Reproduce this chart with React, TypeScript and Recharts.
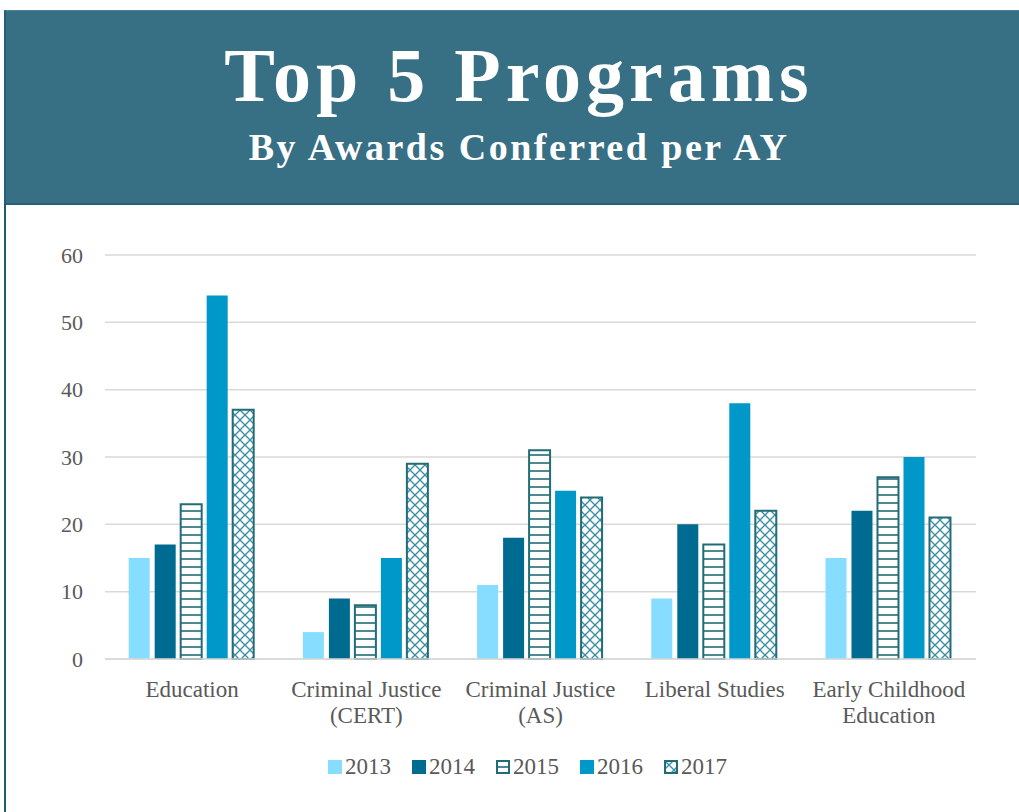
import React from "react";
import { BarChart, Bar, XAxis, YAxis, CartesianGrid } from "recharts";

const categories = [
  "Education",
  "Criminal Justice (CERT)",
  "Criminal Justice (AS)",
  "Liberal Studies",
  "Early Childhood Education",
];
const years = ["2013", "2014", "2015", "2016", "2017"];
const v2013 = [15, 4, 11, 9, 15];
const v2014 = [17, 9, 18, 20, 22];
const v2015 = [23, 8, 31, 17, 27];
const v2016 = [54, 15, 25, 38, 30];
const v2017 = [37, 29, 24, 22, 21];
const yTicks = [0, 10, 20, 30, 40, 50, 60];

const seriesValues = [v2013, v2014, v2015, v2016, v2017];
const data = categories.map((c, i) => {
  const row: Record<string, any> = { name: c };
  years.forEach((y, k) => {
    row[y] = seriesValues[k][i];
  });
  return row;
});

const TEAL = "#216C76";
const styles: Record<string, { fill: string; stroke?: string }> = {
  "2013": { fill: "#87DDFF" },
  "2014": { fill: "#006B91" },
  "2015": { fill: "url(#hlines)", stroke: TEAL },
  "2016": { fill: "#0097C9" },
  "2017": { fill: "url(#xhatch)", stroke: TEAL },
};

const FONT = "'Liberation Serif', 'Times New Roman', serif";
const GRAY = "#595959";

function wrap(label: string, max: number): string[] {
  const words = label.split(" ");
  const lines: string[] = [];
  let cur = "";
  words.forEach((w) => {
    const next = cur ? cur + " " + w : w;
    if (next.length > max && cur) {
      lines.push(cur);
      cur = w;
    } else cur = next;
  });
  if (cur) lines.push(cur);
  return lines;
}

const CatTick = (props: any) => {
  const { x, y, payload } = props;
  const lines = wrap(String(payload.value), 16);
  return (
    <text x={x} y={y} textAnchor="middle" fill={GRAY} fontFamily={FONT} fontSize={23}>
      {lines.map((l, i) => (
        <tspan key={i} x={x} dy={i === 0 ? 38 : 26}>
          {l}
        </tspan>
      ))}
    </text>
  );
};

export default function App() {
  return (
    <div style={{ position: "absolute", left: 0, top: 0, width: 1019, height: 812, background: "#fff", overflow: "hidden" }}>
      <svg width={0} height={0} style={{ position: "absolute" }}>
        <defs>
          <pattern id="hlines" patternUnits="userSpaceOnUse" width={8} height={8}>
            <rect width={8} height={8} fill="#fff" />
            <line x1={0} y1={7} x2={8} y2={7} stroke={TEAL} strokeWidth={1.6} />
          </pattern>
          <pattern id="xhatch" patternUnits="userSpaceOnUse" width={10} height={10}>
            <rect width={10} height={10} fill="#fff" />
            <line x1={0} y1={0} x2={10} y2={10} stroke="#3A8FA6" strokeWidth={1.3} />
            <line x1={10} y1={0} x2={0} y2={10} stroke="#3A8FA6" strokeWidth={1.3} />
          </pattern>
        </defs>
      </svg>
      {/* header */}
      <div
        style={{
          position: "absolute",
          left: 4,
          top: 10,
          width: 1020,
          height: 192,
          background: "#376F85",
          borderTop: "1px solid #4F8296",
          borderBottom: "2px solid #2A5F74",
          borderLeft: "2px solid #22607A",
        }}
      />
      <div
        style={{
          position: "absolute",
          left: 4,
          top: 203,
          width: 2,
          height: 609,
          background: "#1E5C7A",
        }}
      />
      <div
        style={{
          position: "absolute",
          left: 0,
          width: 1038,
          top: 30,
          textAlign: "center",
          color: "#fff",
          fontFamily: FONT,
          fontWeight: "bold",
          fontSize: 76,
          letterSpacing: 5,
          lineHeight: "90px",
        }}
      >
        Top 5 Programs
      </div>
      <div
        style={{
          position: "absolute",
          left: 0,
          width: 1038,
          top: 125,
          textAlign: "center",
          color: "#fff",
          fontFamily: FONT,
          fontWeight: "bold",
          fontSize: 38,
          letterSpacing: 2.5,
          lineHeight: "44px",
        }}
      >
        By Awards Conferred per AY
      </div>

      <div style={{ position: "absolute", left: 0, top: 0 }}>
        <BarChart
          width={1019}
          height={812}
          data={data}
          margin={{ top: 255, right: 43, bottom: 93, left: 45 }}
          barCategoryGap="13.6%"
          barGap={5}
        >
          <CartesianGrid vertical={false} stroke="#D9D9D9" strokeWidth={1.5} />
          <XAxis
            dataKey="name"
            height={60}
            tickLine={false}
            tickSize={0}
            tickMargin={0}
            axisLine={{ stroke: "#D9D9D9", strokeWidth: 1.5 }}
            tick={<CatTick />}
            interval={0}
          />
          <YAxis
            width={60}
            domain={[0, 60]}
            ticks={yTicks}
            tickLine={false}
            axisLine={false}
            tickSize={0}
            tickMargin={22}
            tick={{ fill: GRAY, fontFamily: FONT, fontSize: 22 }}
          />
          {years.map((y) => (
            <Bar
              key={y}
              dataKey={y}
              fill={styles[y].fill}
              stroke={styles[y].stroke}
              strokeWidth={styles[y].stroke ? 2 : 0}
              isAnimationActive={false}
            />
          ))}
        </BarChart>
      </div>

      {/* legend */}
      <div
        style={{
          position: "absolute",
          left: 328,
          top: 754,
          display: "flex",
          alignItems: "center",
          fontFamily: FONT,
          fontSize: 23,
          color: GRAY,
        }}
      >
        {years.map((y) => (
          <div key={y} style={{ display: "flex", alignItems: "center", marginRight: 21 }}>
            <svg width={14} height={14} style={{ marginRight: 3 }}>
              <rect
                x={styles[y].stroke ? 1 : 0}
                y={styles[y].stroke ? 1 : 0}
                width={styles[y].stroke ? 12 : 14}
                height={styles[y].stroke ? 12 : 14}
                fill={styles[y].fill}
                stroke={styles[y].stroke}
                strokeWidth={styles[y].stroke ? 2 : 0}
              />
            </svg>
            <span>{y}</span>
          </div>
        ))}
      </div>
    </div>
  );
}
